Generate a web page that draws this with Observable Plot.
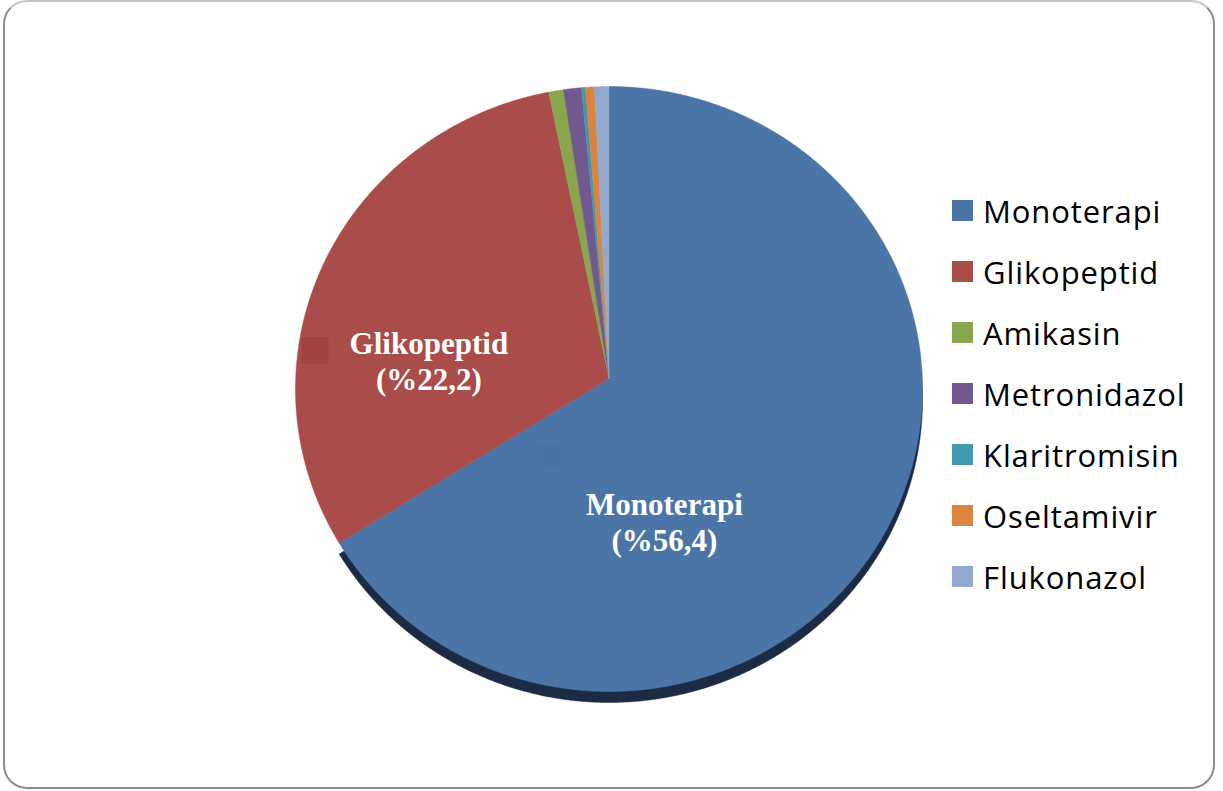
<!DOCTYPE html>
<html><head><meta charset="utf-8">
<script src="https://cdn.jsdelivr.net/npm/d3@7"></script>
<script src="https://cdn.jsdelivr.net/npm/@observablehq/plot@0.6"></script>
<style>
html,body{margin:0;padding:0;background:#fff;}
#wrap{position:relative;width:1223px;height:791px;overflow:hidden;}
#frame{position:absolute;left:3px;top:0px;width:1208px;height:785px;border:2px solid #8c8c8c;border-top-color:#c8c8c8;border-radius:24px;pointer-events:none;}
#legend{position:absolute;left:952px;top:180px;font-family:"Open Sans", Lato, sans-serif;font-size:31px;letter-spacing:0.9px;color:#000;}
.row{display:flex;align-items:center;height:61px;white-space:nowrap;}
.key{width:21px;height:21px;margin-right:10px;flex:none;}
</style></head><body>
<div id="wrap"><div id="chart"></div><div id="legend"></div><div id="frame"></div></div>
<script>
const categories = ["Monoterapi","Glikopeptid","Amikasin","Metronidazol","Klaritromisin","Oseltamivir","Flukonazol"];
const values = [66.5, 30.42, 0.76, 0.92, 0.2, 0.46, 0.74];
const colors = ["#4a75a6","#aa4c4a","#89a54e","#71588f","#4198af","#db843d","#93a9cf"];
const labelNames = ["Monoterapi","Glikopeptid"];
const labelTexts = ["Monoterapi\n(%56,4)","Glikopeptid\n(%22,2)"];

const total = d3.sum(values);
const lift = 0.035; // perspective offset of pie apex
let acc = 0;
const pts = [];
const mids = [];
categories.forEach((name, i) => {
  const a0 = acc / total * 2 * Math.PI; acc += values[i];
  const a1 = acc / total * 2 * Math.PI;
  const n = Math.max(2, Math.ceil((a1 - a0) / 0.004));
  pts.push({name, x: 0, y: lift});
  for (let k = 0; k <= n; k++) {
    const a = a0 + (a1 - a0) * k / n;
    pts.push({name, x: Math.sin(a), y: Math.cos(a)});
  }
  pts.push({name, x: 0, y: lift});
  const am = (a0 + a1) / 2;
  mids.push({name, x: 0.6 * Math.sin(am), y: 0.6 * Math.cos(am) + 0.4 * lift});
});
const labels = labelNames.map((name, i) => ({...mids.find(m => m.name === name), text: labelTexts[i]}));
const lab = n => labels.filter(d => d.name === n);
const textStyle = {x: "x", y: "y", text: "text", fill: "white", fontFamily: "Liberation Serif", fontWeight: "bold", fontSize: 31, lineHeight: 1.16};

const plot = Plot.plot({
  width: 1223, height: 791, margin: 0,
  x: {axis: null, domain: [-1, 1], range: [295, 922]},
  y: {axis: null, domain: [-1, 1], range: [691, 86]},
  color: {domain: categories, range: colors},
  marks: [
    Plot.line(pts.filter(d => d.name === "Monoterapi"), {x: "x", y: "y", fill: "#1c2b44", stroke: "#1c2b44", strokeWidth: 0.5, dy: 11}),
    Plot.line(pts, {x: "x", y: "y", z: "name", fill: "name", stroke: "name", strokeWidth: 0.5}),
    Plot.dot(lab("Glikopeptid"), {x: "x", y: "y", symbol: "square", r: 15.2, fill: "#a3423f", dx: -122.5, dy: 40}),
    Plot.dot(lab("Monoterapi"), {x: "x", y: "y", symbol: "square", r: 13, fill: "#4873a4", dx: -223, dy: -20}),
    Plot.text(lab("Glikopeptid"), {...textStyle, dx: -8.5, dy: 50}),
    Plot.text(lab("Monoterapi"), {...textStyle, dx: -108, dy: 47})
  ]
});
document.getElementById("chart").appendChild(plot);

const legend = document.getElementById("legend");
categories.forEach((name, i) => {
  const row = document.createElement("div"); row.className = "row";
  const key = document.createElement("div"); key.className = "key"; key.style.background = plot.scale("color").apply(name);
  const t = document.createElement("span"); t.textContent = name;
  row.appendChild(key); row.appendChild(t); legend.appendChild(row);
});
</script>
</body></html>
